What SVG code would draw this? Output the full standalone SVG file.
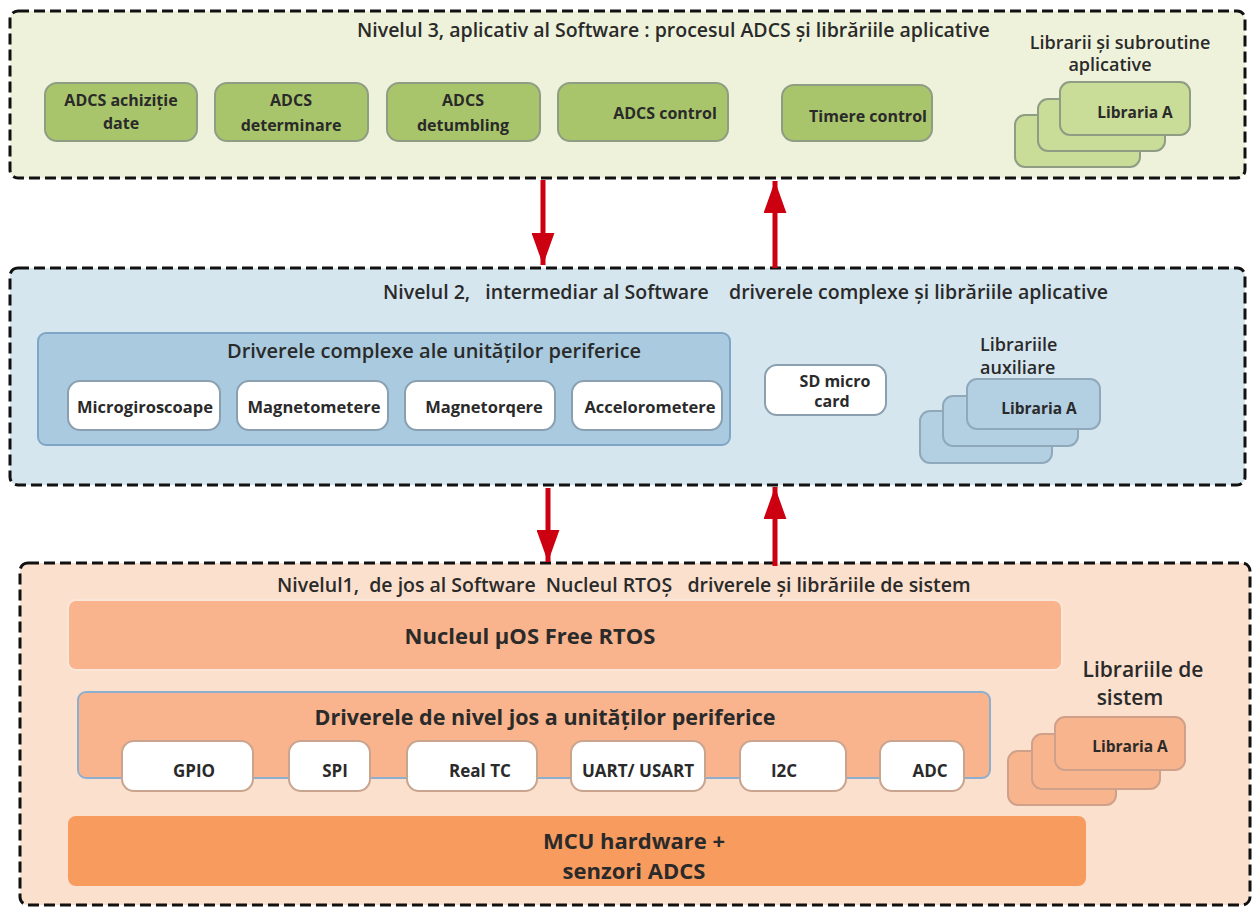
<svg xmlns="http://www.w3.org/2000/svg" width="1259" height="910" viewBox="0 0 1259 910">
<defs>
<style>
text{font-family:"Open Sans","Liberation Sans",sans-serif;font-weight:bold;fill:#2a2a2a;text-anchor:middle;white-space:pre}
.lvl{stroke:#111;stroke-width:3;stroke-dasharray:11 5}
.g{fill:#a9c56b;stroke:#8f9d84;stroke-width:2}
.gl{fill:#c9dc98;stroke:#8f9d84;stroke-width:2}
.w{fill:#fff;stroke:#8aa0b0;stroke-width:2}
.wo{fill:#fff;stroke:#c9a58f;stroke-width:2}
.bl{fill:#b3d0e3;stroke:#8fa9bb;stroke-width:2}
.ol{fill:#f8b58d;stroke:#d0a18a;stroke-width:2}
.t3{font-size:16px}
.t2{font-size:16.5px}
.t1{font-size:17px}
.lib{font-size:15.5px}
.h{font-size:19.5px;font-weight:600}
.hs{font-size:18px;font-weight:600}
.s{text-anchor:start}
.big{font-size:22px}
.arr{stroke:#cc0010;stroke-width:5;fill:none}
</style>
<marker id="ah" viewBox="0 0 14 10" refX="14" refY="5" markerWidth="6.5" markerHeight="4.6" markerUnits="strokeWidth" orient="auto"><path d="M0,0 L14,5 L0,10 z" fill="#cc0010"/></marker>
</defs>

<g id="level3">
<rect x="10" y="11" width="1235" height="167" rx="8" fill="#eef2da" class="lvl"/>
<text x="357" y="37" class="h s">Nivelul 3, aplicativ al Software : procesul ADCS și librăriile aplicative</text>
</g>
<g id="n3-achizitie"><rect x="45" y="83" width="152" height="58" rx="12" class="g"/><text x="121" y="106" class="t3">ADCS achiziție</text><text x="121" y="129" class="t3">date</text></g>
<g id="n3-determinare"><rect x="215" y="83" width="153" height="58" rx="12" class="g"/><text x="291" y="106" class="t3">ADCS</text><text x="291" y="131" class="t3">determinare</text></g>
<g id="n3-detumbling"><rect x="387" y="83" width="153" height="58" rx="12" class="g"/><text x="463" y="106" class="t3">ADCS</text><text x="463" y="131" class="t3">detumbling</text></g>
<g id="n3-control"><rect x="558" y="83" width="170" height="58" rx="12" class="g"/><text x="665" y="119" class="t3">ADCS control</text></g>
<g id="n3-timere"><rect x="782" y="85" width="150" height="56" rx="12" class="g"/><text x="868" y="122" class="t3">Timere control</text></g>
<g id="n3-lib">
<text x="1120" y="49" class="hs">Librarii și subroutine</text>
<text x="1110" y="71" class="hs">aplicative</text>
<rect x="1015" y="115" width="125" height="52" rx="10" class="gl"/>
<rect x="1038" y="99" width="127" height="52" rx="10" class="gl"/>
<rect x="1060" y="82" width="130" height="53" rx="10" class="gl"/>
<text x="1135" y="118" class="lib">Libraria A</text>
</g>

<g id="level2">
<rect x="10" y="268" width="1235" height="217" rx="8" fill="#d6e6ef" class="lvl"/>
<text x="383" y="299" class="h s">Nivelul 2,   intermediar al Software    driverele complexe și librăriile aplicative</text>
</g>
<g id="n2-complexe">
<rect x="38" y="333" width="692" height="112" rx="8" fill="#a9cadf" stroke="#7fa6c6" stroke-width="2"/>
<text x="227" y="358" class="h s" style="font-size:20px">Driverele complexe ale unităților periferice</text>
</g>
<g id="n2-microgiro"><rect x="68" y="381" width="152" height="49" rx="12" class="w"/><text x="145" y="413" class="t2">Microgiroscoape</text></g>
<g id="n2-magnetometere"><rect x="237" y="381" width="151" height="49" rx="12" class="w"/><text x="314" y="413" class="t2">Magnetometere</text></g>
<g id="n2-magnetorqere"><rect x="405" y="381" width="150" height="49" rx="12" class="w"/><text x="484" y="413" class="t2">Magnetorqere</text></g>
<g id="n2-accelero"><rect x="572" y="381" width="150" height="49" rx="12" class="w"/><text x="650" y="413" class="t2">Accelorometere</text></g>
<g id="n2-sd"><rect x="765" y="365" width="121" height="50" rx="12" class="w"/><text x="835" y="387" style="font-size:16px">SD micro</text><text x="832" y="407" style="font-size:16px">card</text></g>
<g id="n2-lib">
<text x="980" y="351" class="hs s">Librariile</text>
<text x="980" y="374" class="hs s">auxiliare</text>
<rect x="920" y="411" width="132" height="52" rx="10" class="bl"/>
<rect x="943" y="396" width="135" height="50" rx="10" class="bl"/>
<rect x="967" y="379" width="133" height="50" rx="10" class="bl"/>
<text x="1039" y="414" class="lib">Libraria A</text>
</g>

<g id="level1">
<rect x="20" y="563" width="1230" height="342" rx="8" fill="#fbe0cd" class="lvl"/>
<text x="277" y="592" class="h s">Nivelul1,  de jos al Software  Nucleul RTOȘ   driverele și librăriile de sistem</text>
</g>
<g id="n1-nucleul"><rect x="68" y="600" width="994" height="70" rx="8" fill="#f9b48d" stroke="#fbe7da" stroke-width="2"/><text x="530" y="644" class="big">Nucleul µOS Free RTOS</text></g>
<g id="n1-drivere">
<rect x="78" y="692" width="912" height="86" rx="8" fill="#f9b48d" stroke="#8eaed0" stroke-width="2"/>
<text x="545" y="725" style="font-size:21.5px">Driverele de nivel jos a unităților periferice</text>
</g>
<g id="n1-gpio"><rect x="122" y="741" width="131" height="50" rx="12" class="wo"/><text x="194" y="777" class="t1">GPIO</text></g>
<g id="n1-spi"><rect x="289" y="741" width="81" height="50" rx="12" class="wo"/><text x="335" y="777" class="t1">SPI</text></g>
<g id="n1-rtc"><rect x="407" y="741" width="130" height="50" rx="12" class="wo"/><text x="480" y="777" class="t1">Real TC</text></g>
<g id="n1-uart"><rect x="571" y="741" width="134" height="50" rx="12" class="wo"/><text x="638" y="777" class="t1">UART/ USART</text></g>
<g id="n1-i2c"><rect x="740" y="741" width="106" height="50" rx="12" class="wo"/><text x="784" y="777" class="t1">I2C</text></g>
<g id="n1-adc"><rect x="880" y="741" width="84" height="50" rx="12" class="wo"/><text x="930" y="777" class="t1">ADC</text></g>
<g id="n1-mcu"><rect x="68" y="816" width="1018" height="70" rx="8" fill="#f79b5f"/><text x="634" y="849" class="big">MCU hardware +</text><text x="634" y="879" class="big">senzori ADCS</text></g>
<g id="n1-lib">
<text x="1143" y="677" class="h" style="font-size:21px">Librariile de</text>
<text x="1130" y="705" class="h" style="font-size:21px">sistem</text>
<rect x="1008" y="751" width="108" height="54" rx="10" class="ol"/>
<rect x="1032" y="734" width="128" height="55" rx="10" class="ol"/>
<rect x="1055" y="717" width="130" height="53" rx="10" class="ol"/>
<text x="1130" y="752" class="lib">Libraria A</text>
</g>

<g id="connectors">
<line x1="543" y1="180" x2="543" y2="265" class="arr" marker-end="url(#ah)"/>
<line x1="775" y1="268" x2="775" y2="181" class="arr" marker-end="url(#ah)"/>
<line x1="548" y1="488" x2="548" y2="562" class="arr" marker-end="url(#ah)"/>
<line x1="775" y1="566" x2="775" y2="487" class="arr" marker-end="url(#ah)"/>
</g>
</svg>
